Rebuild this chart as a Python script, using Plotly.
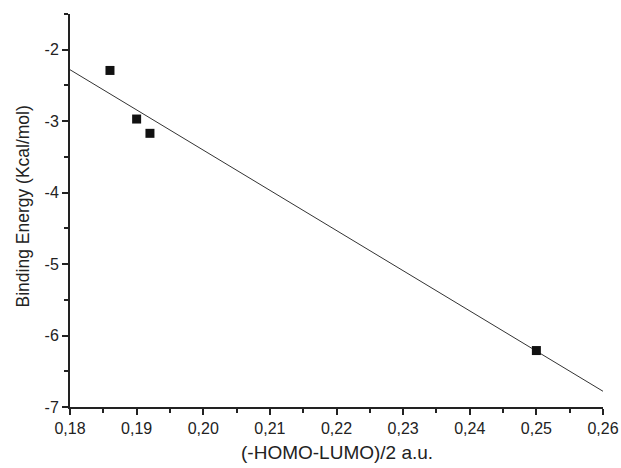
import plotly.graph_objects as go

# data
gap_x = [0.186, 0.190, 0.192, 0.250]
binding_y = [-2.29, -2.97, -3.17, -6.21]
fit_x = [0.18, 0.26]
fit_y = [-2.28, -6.78]
x_ticks = [0.18, 0.19, 0.20, 0.21, 0.22, 0.23, 0.24, 0.25, 0.26]
x_labels = ["0,18", "0,19", "0,20", "0,21", "0,22", "0,23", "0,24", "0,25", "0,26"]
y_ticks = [-7, -6, -5, -4, -3, -2]
y_labels = ["-7", "-6", "-5", "-4", "-3", "-2"]

FONT = "Liberation Sans, Arial, sans-serif"
INK = "#222222"

fig = go.Figure()
fig.add_trace(go.Scatter(x=fit_x, y=fit_y, mode="lines",
                         line=dict(color="#333333", width=1), showlegend=False))
fig.add_trace(go.Scatter(x=gap_x, y=binding_y, mode="markers",
                         marker=dict(symbol="square", size=9, color="#111111"),
                         showlegend=False))

axis_common = dict(
    showgrid=False, zeroline=False, automargin=False,
    showline=True, linecolor=INK, linewidth=2,
    ticks="outside", ticklen=6, tickwidth=2, tickcolor=INK,
    tickfont=dict(size=16, color=INK), ticklabeloverflow="allow",
)

fig.update_layout(
    width=621, height=468,
    margin=dict(l=70, r=18, t=14, b=61),
    paper_bgcolor="white", plot_bgcolor="white",
    font=dict(family=FONT, color=INK, size=16),
    xaxis=dict(
        range=[0.18, 0.26], tickvals=x_ticks, ticktext=x_labels,
        minor=dict(dtick=0.005, tick0=0.18, ticks="outside", ticklen=4,
                   tickwidth=2, tickcolor=INK, showgrid=False),
        **axis_common,
    ),
    yaxis=dict(
        range=[-7, -1.5], tickvals=y_ticks, ticktext=y_labels,
        minor=dict(dtick=0.5, tick0=-7, ticks="outside", ticklen=4,
                   tickwidth=2, tickcolor=INK, showgrid=False),
        **axis_common,
    ),
    annotations=[
        dict(text="(-HOMO-LUMO)/2 a.u.", xref="paper", yref="paper",
             x=0.5, y=0, xanchor="center", yanchor="middle", yshift=-45,
             showarrow=False, font=dict(size=19, color=INK)),
        dict(text="Binding Energy (Kcal/mol)", xref="paper", yref="paper",
             x=0, y=0.5, xanchor="center", yanchor="middle", xshift=-48, yshift=4,
             textangle=-90, showarrow=False, font=dict(size=17.5, color=INK)),
    ],
)

# remove the default page margin so the figure fills the window exactly
fig.write_html(
    "out.html",
    config={"displayModeBar": False},
    post_script="document.body.style.margin='0';document.body.style.overflow='hidden';",
)
